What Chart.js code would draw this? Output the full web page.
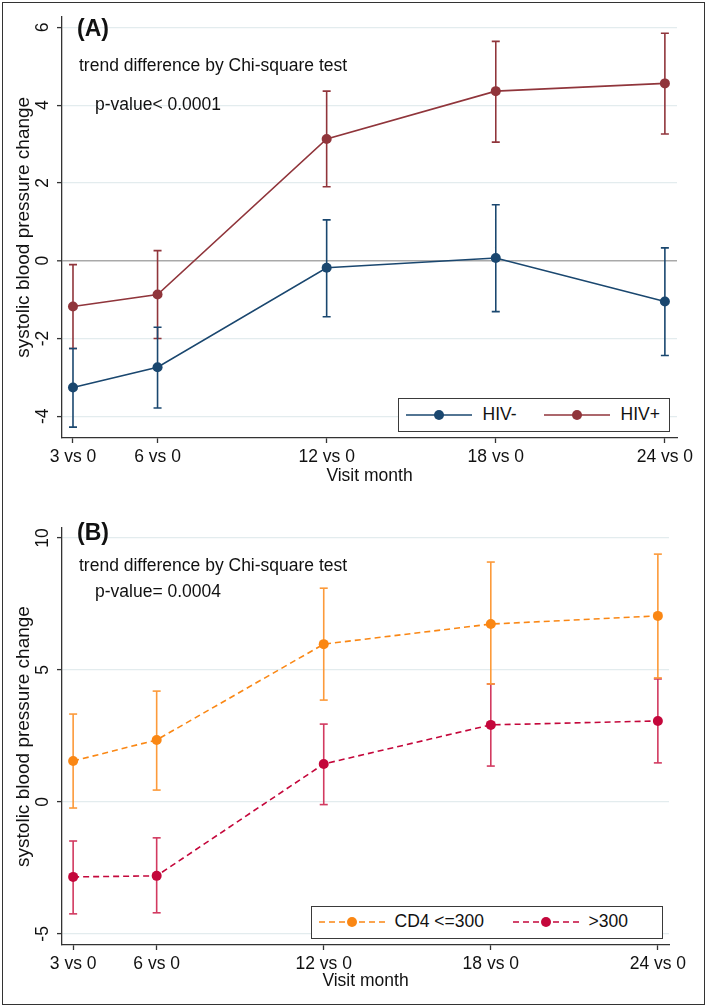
<!DOCTYPE html>
<html>
<head>
<meta charset="utf-8">
<script src="https://cdn.jsdelivr.net/npm/chart.js@4.4.1/dist/chart.umd.min.js"></script>
<style>
  body { margin: 0; background: #fff; font-family: 'Liberation Sans', Arial, sans-serif; }
  #page { position: relative; width: 709px; height: 1006px; overflow: hidden; }
  canvas { position: absolute; left: 0; }
  #frame { position: absolute; left: 1.5px; top: 1.5px; width: 703px; height: 1003px; box-sizing: border-box;
           border: 1.5px solid #333; pointer-events: none; }
  .note { position: absolute; color: #111; font-size: 17.5px; line-height: 1; white-space: nowrap; }
  .tag { font-weight: bold; font-size: 23px; }
  .legend { position: absolute; box-sizing: border-box; border: 1.5px solid #3a3a3a; background: #fff; }
  .legend svg, .legend span { position: absolute; }
  .legend span { font-size: 17.5px; line-height: 1; color: #111; white-space: nowrap; }
</style>
</head>
<body>
<div id="page">
  <canvas id="chartA" width="709" height="503" style="top:0"></canvas>
  <canvas id="chartB" width="709" height="503" style="top:503px"></canvas>

  <div class="note tag" style="left:77px; top:17px">(A)</div>
  <div class="note" style="left:79px; top:57px">trend difference by Chi-square test</div>
  <div class="note" style="left:95px; top:96px">p-value&lt; 0.0001</div>

  <div class="note tag" style="left:77px; top:521px">(B)</div>
  <div class="note" style="left:79px; top:557px">trend difference by Chi-square test</div>
  <div class="note" style="left:95px; top:583px">p-value= 0.0004</div>

  <div class="legend" id="legendA" style="left:398px; top:398px; width:272px; height:34px"></div>
  <div class="legend" id="legendB" style="left:311px; top:906px; width:352px; height:33px"></div>

  <div id="frame"></div>
</div>

<script>
const months = [3, 6, 12, 18, 24];
const monthLabels = ['3 vs 0', '6 vs 0', '12 vs 0', '18 vs 0', '24 vs 0'];

// panel A: HIV status
const hivNeg = [-3.26, -2.74, -0.18, 0.07, -1.05];
const hivNegLow = [-4.28, -3.79, -1.44, -1.31, -2.44];
const hivNegHigh = [-2.26, -1.71, 1.05, 1.44, 0.33];
const hivPos = [-1.18, -0.87, 3.13, 4.36, 4.56];
const hivPosLow = [-2.26, -2.00, 1.90, 3.05, 3.26];
const hivPosHigh = [-0.10, 0.26, 4.36, 5.64, 5.85];
const yTicksA = [-4, -2, 0, 2, 4, 6];

// panel B: CD4 count
const cd4Under = [1.55, 2.35, 5.98, 6.74, 7.05];
const cd4UnderLow = [-0.23, 0.45, 3.86, 4.47, 4.70];
const cd4UnderHigh = [3.33, 4.20, 8.10, 9.09, 9.39];
const cd4Over = [-2.84, -2.80, 1.44, 2.92, 3.07];
const cd4OverLow = [-4.24, -4.20, -0.10, 1.36, 1.48];
const cd4OverHigh = [-1.48, -1.36, 2.95, 4.47, 4.66];
const yTicksB = [-5, 0, 5, 10];

const FONT = "'Liberation Sans', Arial, sans-serif";

function points(values) {
    return months.map((m, i) => ({ x: m, y: values[i] }));
}

// one dataset per series for the CI whiskers, broken with nulls
function whiskers(low, high) {
    const out = [];
    months.forEach((m, i) => {
        out.push({ x: m, y: low[i] }, { x: m, y: high[i] }, { x: m, y: null });
    });
    return out;
}

function seriesSets(values, low, high, color, barColor, dash) {
    return [
        {
            data: points(values),
            borderColor: color,
            borderWidth: 1.6,
            borderDash: dash,
            pointRadius: 5,
            pointBackgroundColor: color,
            pointBorderWidth: 0,
            order: 1
        },
        {
            data: whiskers(low, high),
            borderColor: barColor,
            borderWidth: 1.6,
            spanGaps: false,
            pointStyle: 'line',
            pointRadius: 4,
            pointBorderColor: barColor,
            pointBorderWidth: 1.6,
            order: 2
        }
    ];
}

function makeChart(id, opts) {
    const ctx = document.getElementById(id).getContext('2d');
    return new Chart(ctx, {
        type: 'line',
        data: { datasets: opts.datasets },
        options: {
            responsive: false,
            animation: false,
            devicePixelRatio: 1,
            layout: { padding: { top: opts.top, right: opts.right, left: 0, bottom: 0 } },
            plugins: { legend: { display: false }, tooltip: { enabled: false } },
            scales: {
                x: {
                    type: 'linear',
                    min: opts.xMin,
                    max: opts.xMax,
                    afterBuildTicks: s => { s.ticks = months.map(v => ({ value: v })); },
                    afterFit: s => { s.height = opts.xHeight; },
                    grid: { drawOnChartArea: false, tickColor: '#333', tickLength: 5, tickWidth: 1.3 },
                    border: { color: '#333', width: 1.3 },
                    ticks: {
                        autoSkip: false,
                        maxRotation: 0,
                        padding: opts.xPad,
                        color: '#111',
                        font: { family: FONT, size: 17.5 },
                        callback: (v, i) => monthLabels[i]
                    },
                    title: {
                        display: true,
                        text: 'Visit month',
                        color: '#111',
                        font: { family: FONT, size: 17.5 },
                        padding: { top: 0, bottom: opts.xTitlePad }
                    }
                },
                y: {
                    min: opts.yMin,
                    max: opts.yMax,
                    afterBuildTicks: s => { s.ticks = opts.yTicks.map(v => ({ value: v })); },
                    afterFit: s => { s.width = 62; },
                    grid: {
                        color: c => (opts.zeroLine && c.tick && c.tick.value === 0) ? '#a9a9a9' : '#e3ecee',
                        lineWidth: c => (opts.zeroLine && c.tick && c.tick.value === 0) ? 1.6 : 1.2,
                        tickColor: '#333',
                        tickLength: 5,
                        tickWidth: 1.3
                    },
                    border: { color: '#333', width: 1.3 },
                    ticks: {
                        minRotation: 90,
                        maxRotation: 90,
                        crossAlign: 'center',
                        padding: opts.yPad,
                        color: '#111',
                        font: { family: FONT, size: 17.5 }
                    },
                    title: {
                        display: true,
                        text: 'systolic blood pressure change',
                        color: '#111',
                        font: { family: FONT, size: 19 },
                        padding: { top: 12.5, bottom: 0 }
                    }
                }
            }
        }
    });
}

makeChart('chartA', {
    datasets: [
        ...seriesSets(hivNeg, hivNegLow, hivNegHigh, '#1a476f', '#1a476f', []),
        ...seriesSets(hivPos, hivPosLow, hivPosHigh, '#90353b', '#90353b', [])
    ],
    top: 15, right: 32, xHeight: 65,
    xMin: 2.61, xMax: 24.43, yMin: -4.56, yMax: 6.28, yTicks: yTicksA,
    xPad: 4, xTitlePad: 16, yPad: 6, zeroLine: true
});

makeChart('chartB', {
    datasets: [
        ...seriesSets(cd4Under, cd4UnderLow, cd4UnderHigh, '#fa8714', '#fc9a3a', [6, 4]),
        ...seriesSets(cd4Over, cd4OverLow, cd4OverHigh, '#c4073b', '#d23a60', [6, 4])
    ],
    top: 25, right: 40, xHeight: 61,
    xMin: 2.6, xMax: 24.4, yMin: -5.42, yMax: 10.38, yTicks: yTicksB,
    xPad: 4, xTitlePad: 14, yPad: 4.5, zeroLine: false
});

// legends inside the plot region
function buildLegend(id, items) {
    const box = document.getElementById(id);
    items.forEach(item => {
        const svg = document.createElementNS('http://www.w3.org/2000/svg', 'svg');
        svg.setAttribute('width', 66);
        svg.setAttribute('height', 12);
        svg.style.left = item.symbolX + 'px';
        svg.style.top = (item.midY - 6) + 'px';
        svg.innerHTML =
            `<line x1="0" y1="6" x2="66" y2="6" stroke="${item.color}" stroke-width="1.6"` +
            (item.dash ? ` stroke-dasharray="${item.dash}"` : '') + '/>' +
            `<circle cx="33" cy="6" r="5" fill="${item.color}"/>`;
        box.appendChild(svg);
        const label = document.createElement('span');
        label.textContent = item.label;
        label.style.left = item.textX + 'px';
        label.style.top = (item.midY - 9) + 'px';
        box.appendChild(label);
    });
}

buildLegend('legendA', [
    { label: 'HIV-', color: '#1a476f', symbolX: 6.5, textX: 83.5, midY: 15.5 },
    { label: 'HIV+', color: '#90353b', symbolX: 144.5, textX: 221.5, midY: 15.5 }
]);
buildLegend('legendB', [
    { label: 'CD4 <=300', color: '#fa8714', dash: '6 4', symbolX: 6.5, textX: 82.5, midY: 15 },
    { label: '>300', color: '#c4073b', dash: '6 4', symbolX: 200.5, textX: 276.5, midY: 15 }
]);
</script>
</body>
</html>
